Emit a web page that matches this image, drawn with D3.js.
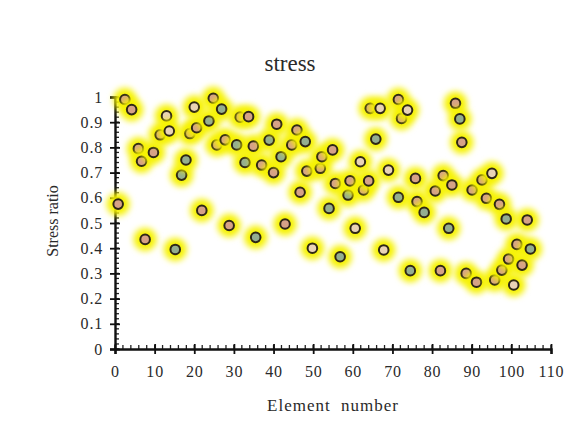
<!DOCTYPE html>
<html>
<head>
<meta charset="utf-8">
<script src="https://cdn.jsdelivr.net/npm/d3@7"></script>
<style>
  body { margin: 0; background: #fff; }
  text { font-family: "Liberation Serif", "DejaVu Serif", serif; fill: #2a2a2a; }
</style>
</head>
<body>
<script>
// element numbers, stress ratios and fill kind
var elements = [2.5, 4.2, 0.8, 5.9, 6.7, 9.7, 7.6, 11.4, 13.0, 13.7,
    15.2, 16.8, 17.9, 18.9, 20.6, 20.0, 21.9, 23.7, 24.8, 26.9,
    25.7, 27.8, 28.8, 30.7, 31.6, 32.8, 33.7, 34.9, 35.5, 37.0,
    38.9, 40.0, 40.8, 41.9, 42.9, 44.6, 45.9, 46.7, 48.0, 48.4,
    49.8, 51.8, 52.2, 54.0, 54.9, 55.6, 56.8, 58.8, 59.3, 60.6,
    61.9, 62.7, 64.0, 64.4, 65.8, 66.9, 67.8, 69.0, 71.5, 71.5,
    72.3, 73.8, 74.5, 75.8, 76.2, 78.0, 80.8, 82.1, 82.8, 84.2,
    85.0, 85.9, 87.0, 87.5, 88.6, 90.1, 91.2, 92.6, 93.7, 95.1,
    95.8, 97.0, 97.6, 98.7, 99.3, 100.6, 101.4, 102.7, 104.0, 104.8];
var ratios = [0.99, 0.95, 0.575, 0.795, 0.745, 0.78, 0.435, 0.85, 0.925, 0.865,
    0.395, 0.69, 0.75, 0.855, 0.878, 0.96, 0.55, 0.905, 0.995, 0.952,
    0.81, 0.83, 0.49, 0.81, 0.92, 0.74, 0.922, 0.805, 0.443, 0.73,
    0.829, 0.70, 0.892, 0.763, 0.496, 0.81, 0.869, 0.622, 0.823, 0.706,
    0.40, 0.717, 0.763, 0.558, 0.79, 0.657, 0.366, 0.611, 0.667, 0.479,
    0.743, 0.631, 0.667, 0.955, 0.833, 0.955, 0.393, 0.71, 0.99, 0.602,
    0.915, 0.948, 0.311, 0.677, 0.585, 0.542, 0.627, 0.311, 0.688, 0.479,
    0.651, 0.975, 0.913, 0.82, 0.30, 0.631, 0.265, 0.671, 0.598, 0.697,
    0.274, 0.574, 0.313, 0.516, 0.357, 0.254, 0.415, 0.333, 0.512, 0.397];
var kinds = ["t","t","t","t","t","t","t","t","p","p",
    "g","g","g","t","t","p","t","g","t","g",
    "t","t","t","g","t","g","t","t","g","t",
    "g","t","t","g","t","t","t","t","g","t",
    "p","t","t","g","t","t","g","g","t","p",
    "p","t","t","t","g","p","p","p","t","g",
    "t","p","g","t","t","g","t","t","t","g",
    "t","t","g","t","t","t","t","t","t","p",
    "t","t","t","g","t","p","t","t","t","g"];
var xTicks = [0, 10, 20, 30, 40, 50, 60, 70, 80, 90, 100, 110];
var yTicks = [0, 0.1, 0.2, 0.3, 0.4, 0.5, 0.6, 0.7, 0.8, 0.9, 1];

var fills = {t: "#d6a287", g: "#94ae90", p: "#e9d3b6"};

var margin = {top: 97, right: 34, bottom: 75, left: 115},
    width = 585 - margin.left - margin.right,
    height = 424 - margin.top - margin.bottom;

var x = d3.scaleLinear().domain([0, 110]).range([0, width]);
var y = d3.scaleLinear().domain([0, 1]).range([height, 0]);

var root = d3.select("body").append("svg")
    .attr("width", 585)
    .attr("height", 424);

var defs = root.append("defs");
defs.append("filter")
    .attr("id", "glow")
    .attr("x", "-100%").attr("y", "-100%")
    .attr("width", "300%").attr("height", "300%")
    .append("feGaussianBlur")
    .attr("stdDeviation", 3);

root.append("text")
    .attr("x", 290)
    .attr("y", 71)
    .attr("text-anchor", "middle")
    .style("font-size", "23px")
    .text("stress");

var svg = root.append("g")
    .attr("transform", "translate(" + margin.left + "," + margin.top + ")");

// minor ticks
svg.append("g").selectAll("line")
    .data(d3.range(0, 111, 2))
    .enter().append("line")
    .attr("x1", function(d) { return x(d); })
    .attr("x2", function(d) { return x(d); })
    .attr("y1", height)
    .attr("y2", height - 4)
    .attr("stroke", "#222").attr("stroke-width", 1.3);

svg.append("g").selectAll("line")
    .data(d3.range(0, 51).map(function(i) { return i * 0.02; }))
    .enter().append("line")
    .attr("x1", 0)
    .attr("x2", 4)
    .attr("y1", function(d) { return y(d); })
    .attr("y2", function(d) { return y(d); })
    .attr("stroke", "#222").attr("stroke-width", 1.3);

// x axis
var xAxis = svg.append("g")
    .attr("transform", "translate(0," + height + ")")
    .call(d3.axisBottom(x).tickValues(xTicks).tickSize(5).tickPadding(12).tickFormat(d3.format("d")));
xAxis.select(".domain").attr("stroke", "#111").attr("stroke-width", 2.4);
xAxis.selectAll(".tick line").attr("y1", -5).attr("stroke", "#111").attr("stroke-width", 1.8);
xAxis.selectAll("text").style("font-size", "16px").style("font-family", "Liberation Serif")
    .attr("fill", "#2a2a2a").attr("letter-spacing", "0.8px");

// y axis
var yAxis = svg.append("g")
    .call(d3.axisLeft(y).tickValues(yTicks).tickSize(5).tickPadding(7).tickFormat(function(d) { return d === 0 || d === 1 ? d : d3.format(".1f")(d); }));
yAxis.select(".domain").attr("stroke", "#111").attr("stroke-width", 2.4);
yAxis.selectAll(".tick line").attr("x1", 5).attr("stroke", "#111").attr("stroke-width", 1.8);
yAxis.selectAll("text").style("font-size", "16px").style("font-family", "Liberation Serif")
    .attr("fill", "#2a2a2a").attr("letter-spacing", "0.8px");

// points: glow then marker, in order so later ones cover earlier ones
var pts = elements.map(function(e, i) { return {e: e, r: ratios[i], k: kinds[i]}; });

var g = svg.selectAll(".pt")
    .data(pts)
    .enter().append("g")
    .attr("class", "pt")
    .attr("transform", function(d) { return "translate(" + x(d.e) + "," + y(d.r) + ")"; });

g.append("circle")
    .attr("r", 11.5)
    .attr("fill", "#f6f200")
    .attr("filter", "url(#glow)");

g.append("circle")
    .attr("r", 4.8)
    .attr("fill", function(d) { return fills[d.k]; })
    .attr("stroke", "#2e2716")
    .attr("stroke-width", 2);

root.append("text")
    .attr("transform", "translate(58,221) rotate(-90)")
    .attr("text-anchor", "middle")
    .style("font-size", "16px")
    .text("Stress ratio");

root.append("text")
    .attr("x", 333)
    .attr("y", 411)
    .attr("text-anchor", "middle")
    .style("font-size", "17px")
    .attr("letter-spacing", "1px")
    .attr("word-spacing", "5px")
    .text("Element number");
</script>
</body>
</html>
